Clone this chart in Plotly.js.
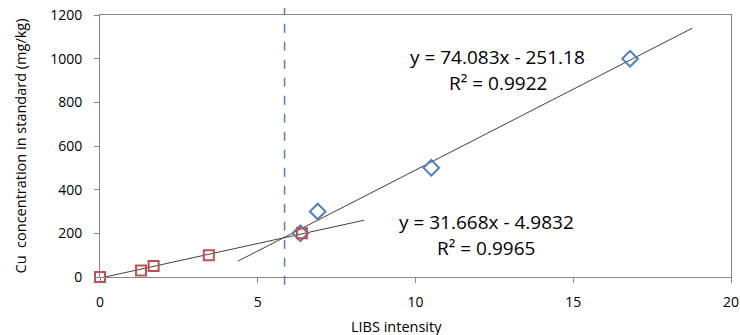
<!DOCTYPE html>
<html><head><meta charset="utf-8">
<script src="https://cdn.plot.ly/plotly-3.0.1.min.js"></script>
<style>body{margin:0;background:#fff}#c{width:740px;height:335px}</style>
</head><body><div id="c"></div>
<script>
// Data
const redX = [0, 1.3, 1.7, 3.45, 6.4];
const redY = [0, 30, 50, 100, 200];
const blueX = [6.35, 6.9, 10.5, 16.8];
const blueY = [200, 300, 500, 1000];
// Linear trend lines (coefficients shown on chart) and their x extents
const redFit = {slope: 31.668, intercept: -4.9832, r2: 0.9965};
const blueFit = {slope: 74.083, intercept: -251.18, r2: 0.9922};
const redFitX = [0, 8.37];
const blueFitX = [4.37, 18.77];
const cutX = 5.85;
const xTicks = [0, 5, 10, 15, 20];
const yTicks = [0, 200, 400, 600, 800, 1000, 1200];

const f = (fit, xs) => xs.map(x => fit.slope * x + fit.intercept);
const font = "Open Sans, Liberation Sans, sans-serif";

const traces = [
  {x: redFitX, y: f(redFit, redFitX), mode: 'lines', line: {color: '#404040', width: 1}, hoverinfo: 'skip', cliponaxis: false},
  {x: blueFitX, y: f(blueFit, blueFitX), mode: 'lines', line: {color: '#404040', width: 1}, hoverinfo: 'skip', cliponaxis: false},
  {x: blueX, y: blueY, mode: 'markers', cliponaxis: false, marker: {symbol: 'diamond-open', size: 12, color: '#4F81BD', line: {width: 2, color: '#4F81BD'}}},
  {x: redX, y: redY, mode: 'markers', cliponaxis: false, marker: {symbol: 'square-open', size: 10, color: '#C0504D', line: {width: 2, color: '#C0504D'}}}
];

const layout = {
  width: 740, height: 335,
  margin: {l: 100, r: 9, t: 15, b: 58},
  showlegend: false,
  paper_bgcolor: '#fff', plot_bgcolor: '#fff',
  font: {family: font, size: 14, color: '#000'},
  xaxis: {range: [0, 20], tickvals: xTicks, showgrid: false, zeroline: false,
    showline: true, linecolor: '#868686', linewidth: 1, mirror: true,
    ticks: 'outside', ticklen: 5, tickcolor: '#868686', ticklabelstandoff: 7,
    tickfont: {size: 14}},
  yaxis: {range: [0, 1200], tickvals: yTicks, showgrid: false, zeroline: false,
    showline: true, linecolor: '#868686', linewidth: 1, mirror: true,
    ticks: 'outside', ticklen: 5, tickcolor: '#868686', ticklabelstandoff: 9,
    tickfont: {size: 14},
    title: {text: 'Cu  concentration in standard (mg/kg)', font: {size: 14.5}, standoff: 20}},
  shapes: [
    {type: 'line', xref: 'x', yref: 'paper', x0: cutX, x1: cutX, y0: -0.03, y1: 1.027,
     line: {color: '#4F81BD', width: 1.5, dash: 'dash'}}
  ],
  annotations: [
    {xref: 'paper', yref: 'paper', x: (396 - 100) / 631, y: -0.19, xanchor: 'center', yanchor: 'middle',
     text: 'LIBS intensity', showarrow: false, font: {size: 14.5}},
    {xref: 'x', yref: 'y', x: 12.6, y: 1008, text: 'y = ' + blueFit.slope.toFixed(3) + 'x - ' + Math.abs(blueFit.intercept).toFixed(2),
     showarrow: false, font: {size: 19}},
    {xref: 'x', yref: 'y', x: 12.6, y: 889, text: 'R\u00B2 = ' + blueFit.r2.toFixed(4),
     showarrow: false, font: {size: 19}},
    {xref: 'x', yref: 'y', x: 12.25, y: 252, text: 'y = ' + redFit.slope.toFixed(3) + 'x - ' + Math.abs(redFit.intercept).toFixed(4),
     showarrow: false, font: {size: 19}},
    {xref: 'x', yref: 'y', x: 12.25, y: 133, text: 'R\u00B2 = ' + redFit.r2.toFixed(4),
     showarrow: false, font: {size: 19}}
  ]
};
Plotly.newPlot('c', traces, layout, {displayModeBar: false, staticPlot: true});
</script></body></html>
